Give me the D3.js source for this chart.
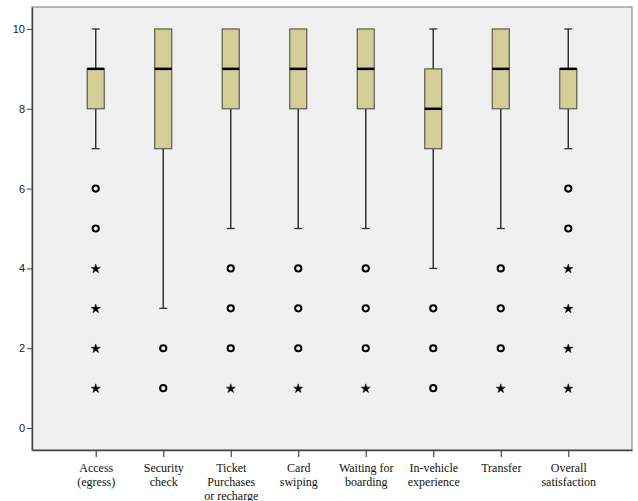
<!DOCTYPE html>
<html>
<head>
<meta charset="utf-8">
<script src="https://cdn.jsdelivr.net/npm/d3@7"></script>
<style>
  html, body { margin: 0; padding: 0; background: #ffffff; }
  svg { display: block; }
  .cat-label { font-family: "Liberation Serif", "DejaVu Serif", "Times New Roman", serif; font-size: 12px; fill: #111; }
  .val-label { font-family: "Liberation Sans", Arial, sans-serif; font-size: 11px; fill: #222; }
</style>
</head>
<body>
<svg id="chart" width="638" height="501"></svg>
<script>
// Satisfaction scores per service stage (0–10 scale)
const categories = [
  ["Access", "(egress)"],
  ["Security", "check"],
  ["Ticket", "Purchases", "or recharge"],
  ["Card", "swiping"],
  ["Waiting for", "boarding"],
  ["In-vehicle", "experience"],
  ["Transfer"],
  ["Overall", "satisfaction"]
];
const whiskerLow  = [7, 3, 5, 5, 5, 4, 5, 7];
const q1          = [8, 7, 8, 8, 8, 7, 8, 8];
const median      = [9, 9, 9, 9, 9, 8, 9, 9];
const q3          = [9, 10, 10, 10, 10, 9, 10, 9];
const whiskerHigh = [10, 10, 10, 10, 10, 10, 10, 10];
// mild outliers (circles) and extreme values (stars)
const outliers = [[6, 5], [2, 1], [4, 3, 2], [4, 3, 2], [4, 3, 2], [3, 2, 1], [4, 3, 2], [6, 5]];
const extremes = [[4, 3, 2, 1], [], [1], [1], [1], [], [1], [4, 3, 2, 1]];
const yTicks = [0, 2, 4, 6, 8, 10];

const svg = d3.select("#chart");
const plot = { left: 32, right: 632, top: 7, bottom: 450 };

const keys = categories.map((c, i) => i);
const x = d3.scalePoint().domain(keys).range([plot.left, plot.right]).padding(0.944);
const y = d3.scaleLinear().domain([-0.55, 10.55]).range([plot.bottom, plot.top]);

// plot area background and frame
svg.append("rect")
  .attr("x", plot.left).attr("y", plot.top)
  .attr("width", plot.right - plot.left).attr("height", plot.bottom - plot.top)
  .attr("fill", "#f0f0f0").attr("stroke", "#8a8a8a").attr("stroke-width", 1.2);

// y axis
const yAxis = svg.append("g")
  .attr("transform", `translate(${plot.left},0)`)
  .call(d3.axisLeft(y).tickValues(yTicks).tickSizeInner(5).tickSizeOuter(0)
    .tickPadding(2).tickFormat(d3.format("d")));
yAxis.select(".domain").attr("stroke", "#444").attr("stroke-width", 1.4);
yAxis.selectAll(".tick line").attr("stroke", "#444");
yAxis.selectAll(".tick text").attr("class", "val-label")
  .attr("font-family", null).attr("font-size", null).attr("fill", null);
yAxis.attr("font-family", null).attr("font-size", null);

// x axis
const xAxis = svg.append("g")
  .attr("transform", `translate(0,${plot.bottom})`)
  .call(d3.axisBottom(x).tickSizeInner(7).tickSizeOuter(0).tickFormat(""));
xAxis.attr("font-family", null).attr("font-size", null);
xAxis.select(".domain").attr("stroke", "#444").attr("stroke-width", 1.4);
xAxis.selectAll(".tick line").attr("stroke", "#444").attr("stroke-width", 1.2);
xAxis.selectAll(".tick text").remove();

// multi-line category labels
xAxis.selectAll(".tick").each(function (d) {
  const t = d3.select(this).append("text")
    .attr("class", "cat-label")
    .attr("text-anchor", "middle");
  categories[d].forEach((line, j) => {
    t.append("tspan").attr("x", 0).attr("y", 21.5 + j * 14).text(line);
  });
});

const boxW = 17, capW = 8;
const g = svg.append("g");

keys.forEach(i => {
  const cx = x(i);
  // whiskers
  if (whiskerLow[i] < q1[i]) {
    g.append("line").attr("x1", cx).attr("x2", cx)
      .attr("y1", y(whiskerLow[i])).attr("y2", y(q1[i]))
      .attr("stroke", "#333").attr("stroke-width", 1.5);
    g.append("line").attr("x1", cx - capW / 2).attr("x2", cx + capW / 2)
      .attr("y1", y(whiskerLow[i])).attr("y2", y(whiskerLow[i]))
      .attr("stroke", "#333").attr("stroke-width", 1.3);
  }
  if (whiskerHigh[i] > q3[i]) {
    g.append("line").attr("x1", cx).attr("x2", cx)
      .attr("y1", y(whiskerHigh[i])).attr("y2", y(q3[i]))
      .attr("stroke", "#333").attr("stroke-width", 1.5);
    g.append("line").attr("x1", cx - capW / 2).attr("x2", cx + capW / 2)
      .attr("y1", y(whiskerHigh[i])).attr("y2", y(whiskerHigh[i]))
      .attr("stroke", "#333").attr("stroke-width", 1.3);
  }
  // box
  g.append("rect")
    .attr("x", cx - boxW / 2).attr("y", y(q3[i]))
    .attr("width", boxW).attr("height", y(q1[i]) - y(q3[i]))
    .attr("fill", "#d3ce98").attr("stroke", "#5a5a50").attr("stroke-width", 1.2);
  // median
  g.append("line")
    .attr("x1", cx - boxW / 2).attr("x2", cx + boxW / 2)
    .attr("y1", y(median[i])).attr("y2", y(median[i]))
    .attr("stroke", "#000").attr("stroke-width", 2.5);
  // outliers
  outliers[i].forEach(v => {
    g.append("circle").attr("cx", cx).attr("cy", y(v)).attr("r", 3.1)
      .attr("fill", "none").attr("stroke", "#000").attr("stroke-width", 2);
  });
  // extremes
  extremes[i].forEach(v => {
    g.append("path")
      .attr("d", d3.symbol().type(d3.symbolStar).size(26)())
      .attr("transform", `translate(${cx},${y(v) + 0.5})`)
      .attr("fill", "#000").attr("stroke", "#000").attr("stroke-width", 0.5);
  });
});
</script>
</body>
</html>
